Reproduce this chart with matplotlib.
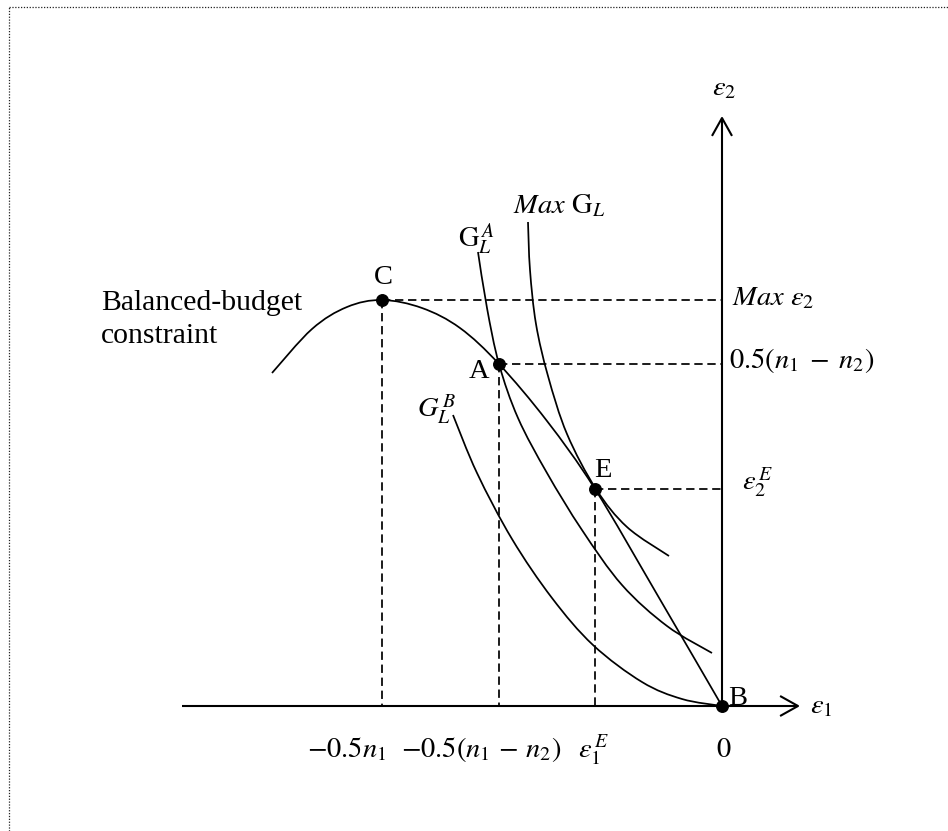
import matplotlib
matplotlib.use("Agg")
import matplotlib.pyplot as plt
import numpy as np
from matplotlib.lines import Line2D
from matplotlib.path import Path
from matplotlib.patches import PathPatch

plt.rcParams['font.family'] = ['Liberation Serif', 'DejaVu Serif']
plt.rcParams['mathtext.fontset'] = 'stix'

# ---- curves (diagram units: 1 unit = 100 px, origin at B) ----
budget_x = [-4.50, -4.10, -3.75, -3.40, -3.00, -2.62, -2.23, -1.75, -1.27, -0.64, 0.00]
budget_y = [3.33, 3.77, 3.99, 4.06, 3.98, 3.78, 3.42, 2.85, 2.17, 1.10, 0.00]

gla_x = [-2.44, -2.35, -2.23, -2.04, -1.75, -1.40, -1.00, -0.55, -0.10]
gla_y = [4.54, 3.98, 3.42, 2.88, 2.33, 1.76, 1.21, 0.80, 0.53]

maxg_x = [-1.94, -1.92, -1.86, -1.74, -1.55, -1.26, -0.95, -0.53]
maxg_y = [4.84, 4.36, 3.82, 3.30, 2.72, 2.17, 1.79, 1.50]

glb_x = [-2.69, -2.45, -2.10, -1.70, -1.29, -0.80, -0.40, 0.00]
glb_y = [2.91, 2.33, 1.67, 1.08, 0.61, 0.24, 0.07, 0.00]

# ---- key points ----
point_names = ['C', 'A', 'E', 'B']
point_x = [-3.40, -2.23, -1.27, 0.00]
point_y = [4.06, 3.42, 2.17, 0.00]

# axes extents
x_axis_start, x_axis_end = -5.40, 0.76
y_axis_end = 5.88

# tick labels on horizontal axis
xtick_labels = [r'$-0.5n_1$', r'$-0.5(n_1\,-\,n_2)$', r'$\varepsilon_1^{\,E}$', r'$0$']
xtick_left = [-4.15, -3.21, -1.44, -0.06]
# labels on vertical axis
ylabels = [r'$Max\ \varepsilon_2$', r'$0.5(n_1\;-\;n_2)$', r'$\varepsilon_2^{\,E}$']
ylabel_y = [4.01, 3.38, 2.16]
ylabel_x = [0.10, 0.07, 0.20]

fig = plt.figure(figsize=(9.48, 8.31), dpi=100)
ax = fig.add_axes([0, 0, 1, 1])
ax.set_xlim(-7.22, 2.26)
ax.set_ylim(-1.25, 7.06)
ax.axis('off')

fs = 20.5
lw_curve = 1.25
lw_axis = 1.5
dash = (0, (4.8, 2.7))


def smooth_path(xs, ys):
    """Cubic Bezier path passing through every read point (Catmull-Rom handles)."""
    p = np.column_stack([xs, ys]).astype(float)
    ext = np.vstack([p[0], p, p[-1]])
    verts = [p[0]]
    codes = [Path.MOVETO]
    for i in range(1, len(ext) - 2):
        c1 = ext[i] + (ext[i + 1] - ext[i - 1]) / 6.0
        c2 = ext[i + 1] - (ext[i + 2] - ext[i]) / 6.0
        verts += [c1, c2, ext[i + 1]]
        codes += [Path.CURVE4] * 3
    return Path(verts, codes)


# dotted frame (left and top)
fx = 9 / 948
fy = 1 - 7 / 831
for xs_, ys_ in [([fx, fx], [0, fy]), ([fx, 1], [fy, fy])]:
    fig.add_artist(Line2D(xs_, ys_, transform=fig.transFigure,
                          color='#222222', lw=0.9, linestyle=(0, (1, 1.3))))

# axes
ax.plot([x_axis_start, x_axis_end], [0, 0], color='black', lw=lw_axis, solid_capstyle='butt')
ax.plot([0, 0], [0, y_axis_end], color='black', lw=lw_axis, solid_capstyle='butt')
hl, hw = 0.17, 0.095
ax.plot([x_axis_end - hl, x_axis_end, x_axis_end - hl], [hw, 0, -hw], color='black', lw=lw_axis)
ax.plot([-hw, 0, hw], [y_axis_end - hl, y_axis_end, y_axis_end - hl], color='black', lw=lw_axis)

# dashed guides
for px, py in zip(point_x[:3], point_y[:3]):
    ax.plot([px, 0], [py, py], color='black', lw=lw_curve, linestyle=dash)
    ax.plot([px, px], [py, 0], color='black', lw=lw_curve, linestyle=dash)

# curves
for cx, cy in [(budget_x, budget_y), (gla_x, gla_y), (maxg_x, maxg_y), (glb_x, glb_y)]:
    ax.add_patch(PathPatch(smooth_path(cx, cy), facecolor='none', edgecolor='black',
                           lw=lw_curve, capstyle='butt'))

# points
ax.plot(point_x, point_y, 'o', color='black', markersize=8.3, zorder=5)

# point labels
ax.text(-3.39, 4.22, 'C', fontsize=fs, ha='center', va='baseline')
ax.text(-2.43, 3.28, 'A', fontsize=fs, ha='center', va='baseline')
ax.text(-1.19, 2.29, 'E', fontsize=fs, ha='center', va='baseline')
ax.text(0.16, 0.01, 'B', fontsize=fs, ha='center', va='baseline')

# curve labels
ax.text(-6.21, 3.96, 'Balanced-budget', fontsize=21.3, ha='left', va='baseline')
ax.text(-6.21, 3.63, 'constraint', fontsize=21.3, ha='left', va='baseline')
ax.text(-2.64, 4.59, r'$\mathrm{G}_L^{\,A}$', fontsize=fs, ha='left', va='baseline')
ax.text(-2.09, 4.93, r'$Max\ \mathrm{G}_L$', fontsize=fs, ha='left', va='baseline')
ax.text(-3.05, 2.89, r'$G_L^{\,B}$', fontsize=fs, ha='left', va='baseline')

# axis labels
ax.text(0.88, -0.07, r'$\varepsilon_1$', fontsize=fs, ha='left', va='baseline')
ax.text(-0.10, 6.11, r'$\varepsilon_2$', fontsize=fs, ha='left', va='baseline')

for lab, lx in zip(xtick_labels, xtick_left):
    ax.text(lx, -0.51, lab, fontsize=fs, ha='left', va='baseline')
for lab, lx, ly in zip(ylabels, ylabel_x, ylabel_y):
    ax.text(lx, ly, lab, fontsize=fs, ha='left', va='baseline')

fig.savefig('out.png', dpi=100)
